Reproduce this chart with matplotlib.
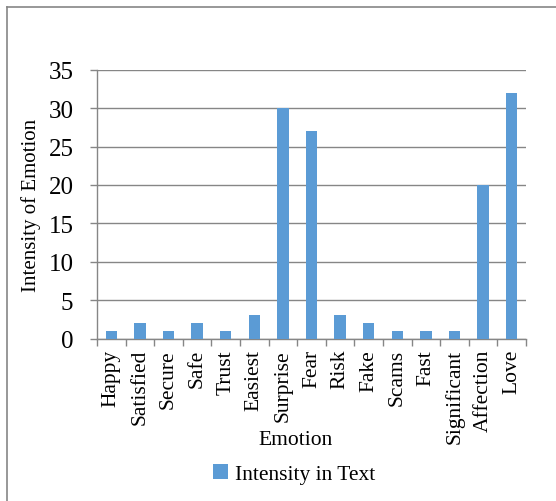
import matplotlib.pyplot as plt
from matplotlib.lines import Line2D
import numpy as np

plt.rcParams['font.family'] = ['Liberation Serif', 'DejaVu Serif']

emociones = ["Happy", "Satisfied", "Secure", "Safe", "Trust", "Easiest", "Surprise",
             "Fear", "Risk", "Fake", "Scams", "Fast", "Significant", "Affection", "Love"]
intensidad = [1, 2, 1, 2, 1, 3, 30, 27, 3, 2, 1, 1, 1, 20, 32]

gris = "#868686"
azul = "#5B9BD5"

fig = plt.figure(figsize=(5.56, 5.02), dpi=100)
ax = fig.add_axes([0.1745, 0.3237, 0.7715, 0.5353])

x = np.arange(len(emociones))
ax.bar(x, intensidad, width=0.4, color=azul, label="Intensity in Text", zorder=3)

ax.set_xlim(-0.5, len(emociones) - 0.5)
ax.set_ylim(0, 35)
ax.set_yticks(range(0, 36, 5))
ax.yaxis.grid(True, color=gris, linewidth=1)
ax.set_axisbelow(True)

# etiquetas en el centro, marcas entre categorías
ax.set_xticks(x)
ax.set_xticklabels(emociones, rotation=90, fontsize=15.5)
ax.tick_params(axis='x', which='major', length=0, pad=7.5)
ax.set_xticks(np.arange(-0.5, len(emociones)), minor=True)
ax.tick_params(axis='x', which='minor', length=5, color=gris, width=1)
ax.tick_params(axis='y', length=5, color=gris, width=1, pad=12, labelsize=18)

for lado in ["top", "right"]:
    ax.spines[lado].set_visible(False)
for lado in ["left", "bottom"]:
    ax.spines[lado].set_color(gris)
    ax.spines[lado].set_linewidth(1)

ax.set_ylabel("Intensity of Emotion", fontsize=15)
ax.yaxis.set_label_coords(-0.13, 0.5)
fig.text(296 / 556, 1 - 441 / 502, "Emotion", fontsize=15.5, ha='center', va='center')

fig.legend(loc='center', bbox_to_anchor=(294 / 556, 1 - 475 / 502), frameon=False,
           fontsize=15.5, handlelength=0.7, handleheight=0.7, handletextpad=0.3)

# marco del gráfico
fig.add_artist(Line2D([7 / 556, 7 / 556], [0, 1 - 8 / 502], color=gris, linewidth=1.2))
fig.add_artist(Line2D([7 / 556, 1], [1 - 8 / 502, 1 - 8 / 502], color=gris, linewidth=1.2))

fig.savefig("out.png", dpi=100)
